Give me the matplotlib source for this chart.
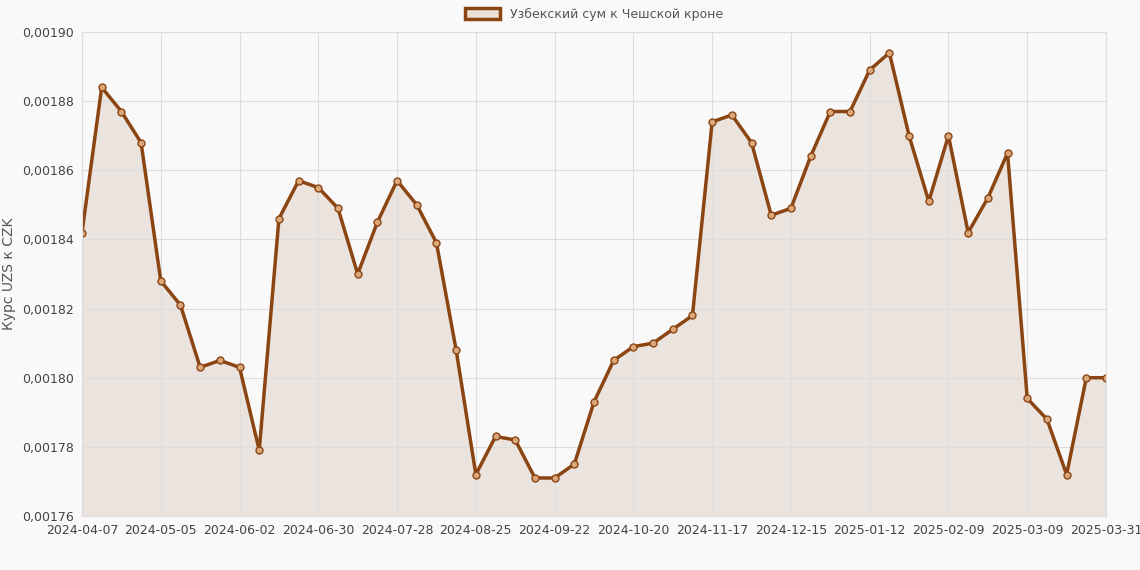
import matplotlib.pyplot as plt
import pandas as pd

start_dates = pd.date_range('2024-04-07', periods=52, freq='7D').strftime('%Y-%m-%d').tolist()
dates = start_dates + ['2025-03-31']
rates = [0.001842, 0.001884, 0.001877, 0.001868, 0.001828, 0.001821, 0.001803, 0.001805,
         0.001803, 0.001779, 0.001846, 0.001857, 0.001855, 0.001849, 0.001830, 0.001845,
         0.001857, 0.001850, 0.001839, 0.001808, 0.001772, 0.001783, 0.001782, 0.001771,
         0.001771, 0.001775, 0.001793, 0.001805, 0.001809, 0.001810, 0.001814, 0.001818,
         0.001874, 0.001876, 0.001868, 0.001847, 0.001849, 0.001864, 0.001877, 0.001877,
         0.001889, 0.001894, 0.001870, 0.001851, 0.001870, 0.001842, 0.001852, 0.001865,
         0.001794, 0.001788, 0.001772, 0.001800, 0.001800]
yticks = [0.00176, 0.00178, 0.00180, 0.00182, 0.00184, 0.00186, 0.00188, 0.00190]

color = '#8B4513'
x = list(range(len(dates)))

fig = plt.figure(figsize=(11.4, 5.7), dpi=100, facecolor='#f9f9f9')
ax = fig.add_axes([82/1140, 1-516/570, 1024/1140, 484/570])
ax.set_facecolor('#f9f9f9')
ax.fill_between(x, rates, 0.00176, color=color, alpha=0.12, linewidth=0)
ax.plot(x, rates, color=color, linewidth=2.5, marker='o', markersize=5,
        markerfacecolor='#d9a77a', markeredgecolor=color, markeredgewidth=1,
        label='Узбекский сум к Чешской кроне')
# legend handle as filled box
import matplotlib.patches as mpatches
handle = mpatches.Patch(facecolor='#ecdfd4', edgecolor=color, linewidth=2.5,
                        label='Узбекский сум к Чешской кроне')
ax.legend(handles=[handle], loc='lower center', bbox_to_anchor=(0.5, 1.0), frameon=False,
          fontsize=9, labelcolor='#555555', handlelength=2.8, handleheight=1.0)

ax.set_xlim(0, len(dates) - 1)
ax.set_ylim(0.00176, 0.00190)
tick_idx = list(range(0, 49, 4)) + [len(dates) - 1]
ax.set_xticks(tick_idx)
ax.set_xticklabels([dates[i] for i in tick_idx], fontsize=9, color='#444444')
ax.set_yticks(yticks)
ax.set_yticklabels([f'{v:.5f}'.replace('.', ',') for v in yticks], fontsize=9, color='#444444')
ax.grid(True, color='#dddddd', linewidth=0.8)
ax.tick_params(length=0, pad=6)
for s in ax.spines.values():
    s.set_color('#dddddd')
ax.set_ylabel('Курс UZS к CZK', fontsize=10, color='#555555')

plt.savefig('out.png', dpi=100, facecolor=fig.get_facecolor())
